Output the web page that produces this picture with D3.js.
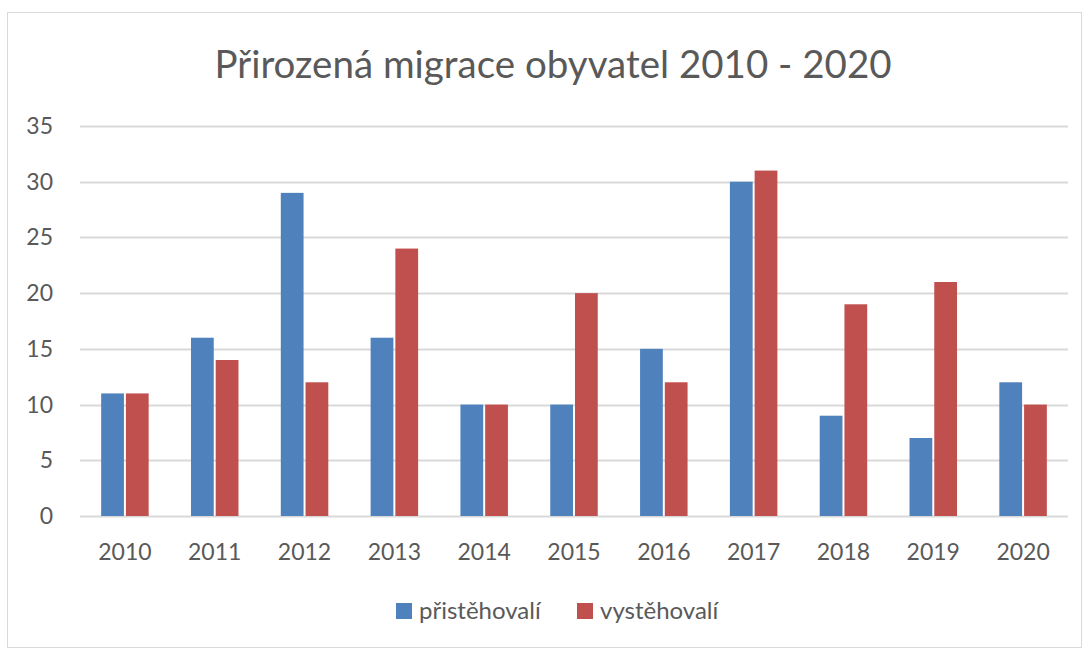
<!DOCTYPE html>
<html>
<head>
<meta charset="utf-8">
<script src="https://cdn.jsdelivr.net/npm/d3@7"></script>
<style>
  body { margin: 0; background: #fff; }
  svg { display: block; font-family: Lato, "Open Sans", sans-serif; }
</style>
</head>
<body>
<svg id="chart" width="1089" height="648"></svg>
<script>
const years = ["2010", "2011", "2012", "2013", "2014", "2015", "2016", "2017", "2018", "2019", "2020"];
const prist = [11, 16, 29, 16, 10, 10, 15, 30, 9, 7, 12];
const vyst = [11, 14, 12, 24, 10, 20, 12, 31, 19, 21, 10];
const yTicks = [0, 5, 10, 15, 20, 25, 30, 35];
const seriesNames = ["přistěhovalí", "vystěhovalí"];
const colors = ["#4f81bd", "#c0504d"];

const svg = d3.select("#chart");
const margin = { left: 80, right: 21, top: 126, bottom: 132 };
const W = 1089, H = 648;

// chart border
svg.append("rect")
  .attr("x", 7.5).attr("y", 12.5)
  .attr("width", W - 15).attr("height", H - 13)
  .attr("fill", "#fff").attr("stroke", "#d9d9d9").attr("stroke-width", 1);

svg.append("text")
  .attr("x", 553).attr("y", 78)
  .attr("text-anchor", "middle")
  .attr("font-size", 38.5)
  .attr("fill", "#595959")
  .text("Přirozená migrace obyvatel 2010 - 2020");

let x = d3.scaleBand().domain(years).range([margin.left, W - margin.right]);
let y = d3.scaleLinear().domain([0, 35]).range([H - margin.bottom, margin.top]);
let inner = d3.scaleBand().domain([0, 1]).range([0, 47.5]).paddingInner(0.08);

// gridlines
svg.append("g").selectAll("line").data(yTicks).join("line")
  .attr("x1", margin.left).attr("x2", W - margin.right)
  .attr("y1", d => Math.round(y(d)) + 0.5).attr("y2", d => Math.round(y(d)) + 0.5)
  .attr("stroke", "#d9d9d9").attr("stroke-width", 2);

// y labels
svg.append("g").selectAll("text").data(yTicks).join("text")
  .attr("x", 53).attr("y", d => y(d) + 8)
  .attr("text-anchor", "end")
  .attr("font-size", 23).attr("fill", "#595959")
  .text(d => d);

// bars
let data = [prist, vyst];
data.forEach(function (vals, s) {
  svg.append("g").selectAll("rect").data(vals).join("rect")
    .attr("x", (d, i) => x(years[i]) + x.bandwidth() / 2 - 23.75 + inner(s))
    .attr("y", d => y(d))
    .attr("width", inner.bandwidth())
    .attr("height", d => y(0) - y(d))
    .attr("fill", colors[s]);
});

// x labels
svg.append("g").selectAll("text").data(years).join("text")
  .attr("x", d => x(d) + x.bandwidth() / 2).attr("y", 560)
  .attr("text-anchor", "middle")
  .attr("font-size", 23).attr("fill", "#595959")
  .text(d => d);

// legend
let legendX = [396, 577];
seriesNames.forEach(function (name, s) {
  svg.append("rect")
    .attr("x", legendX[s]).attr("y", 603)
    .attr("width", 16).attr("height", 16)
    .attr("fill", colors[s]);
  svg.append("text")
    .attr("x", legendX[s] + 23).attr("y", 619)
    .attr("font-size", 24).attr("fill", "#595959")
    .text(name);
});
</script>
</body>
</html>
